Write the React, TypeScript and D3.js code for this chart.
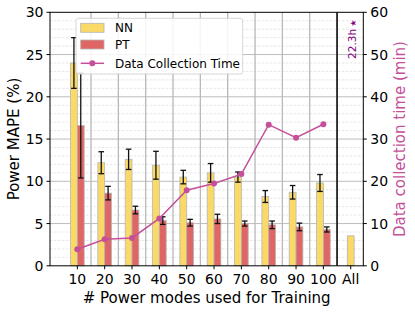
import * as d3 from "d3";

// categories and values
const modes = ["10", "20", "30", "40", "50", "60", "70", "80", "90", "100", "All"];
const nnMape = [24.0, 12.2, 12.6, 11.9, 10.5, 11.0, 10.5, 8.2, 8.7, 9.8, 3.55];
const nnErr = [3.0, 1.3, 1.2, 1.65, 0.8, 1.1, 0.6, 0.7, 0.8, 1.0, 0];
const ptMape = [16.6, 8.6, 6.6, 5.35, 5.1, 5.55, 5.0, 4.85, 4.6, 4.3];
const ptErr = [6.2, 0.8, 0.45, 0.45, 0.4, 0.55, 0.3, 0.45, 0.45, 0.3];
const collectMin = [3.9, 6.3, 6.6, 11.2, 17.9, 19.5, 21.7, 33.4, 30.3, 33.5];
const leftTicks = [0, 5, 10, 15, 20, 25, 30];
const rightTicks = [0, 10, 20, 30, 40, 50, 60];

const W = 415;
const H = 312;
const margin = { top: 12.3, right: 51.7, bottom: 46.2, left: 50 };
const FONT = "DejaVu Sans, sans-serif";

const NN_COLOR = "#fad966";
const PT_COLOR = "#e06666";
const LINE_COLOR = "#c5509a";

export default function App() {
  const x0 = margin.left;
  const x1 = W - margin.right;
  const y0 = H - margin.bottom;
  const y1 = margin.top;

  const x = d3.scaleLinear().domain([-1, 10.46]).range([x0, x1]);
  const yL = d3.scaleLinear().domain([0, 30]).range([y0, y1]);
  const yR = d3.scaleLinear().domain([0, 60]).range([y0, y1]);
  const bw = x(0.25) - x(0);
  const cap = 2.8;

  const line = d3
    .line<number>()
    .x((_, i) => x(i))
    .y((d) => yR(d));

  const minor = d3.range(1, 30).filter((v) => v % 5 !== 0);
  const vGrid = d3.range(0, 9).map((i) => i + 0.5);

  const errBar = (cx: number, v: number, e: number, key: string) => (
    <g key={key} stroke="#111" strokeWidth={1.3}>
      <line x1={cx} x2={cx} y1={yL(v - e)} y2={yL(v + e)} />
      <line x1={cx - cap} x2={cx + cap} y1={yL(v - e)} y2={yL(v - e)} />
      <line x1={cx - cap} x2={cx + cap} y1={yL(v + e)} y2={yL(v + e)} />
    </g>
  );

  return (
    <svg
      width={W}
      height={H}
      style={{ position: "absolute", left: 0, top: 0, background: "#fff" }}
      fontFamily={FONT}
    >
      {/* grid */}
      {minor.map((v) => (
        <line key={"m" + v} x1={x0} x2={x1} y1={yL(v)} y2={yL(v)}
          stroke="#dcdcdc" strokeWidth={0.7} strokeDasharray="2.5,1.5" />
      ))}
      {leftTicks.slice(1, -1).map((v) => (
        <line key={"g" + v} x1={x0} x2={x1} y1={yL(v)} y2={yL(v)}
          stroke="#bdbdbd" strokeWidth={1} />
      ))}
      {vGrid.map((v) => (
        <line key={"v" + v} x1={x(v)} x2={x(v)} y1={y1} y2={y0}
          stroke="#b8b8b8" strokeWidth={1.3} />
      ))}
      <line x1={x(9.5)} x2={x(9.5)} y1={y1} y2={y0} stroke="#222" strokeWidth={1.8} />

      {/* bars */}
      {nnMape.map((v, i) => {
        const left = i === 10 ? x(i) - bw / 2 : x(i) - bw;
        return (
          <rect key={"nn" + i} x={left} width={bw} y={yL(v)} height={y0 - yL(v)}
            fill={NN_COLOR} stroke="#b5b5b5" strokeWidth={0.8} />
        );
      })}
      {ptMape.map((v, i) => (
        <rect key={"pt" + i} x={x(i)} width={bw} y={yL(v)} height={y0 - yL(v)}
          fill={PT_COLOR} stroke="#b5b5b5" strokeWidth={0.8} />
      ))}
      {nnMape.map((v, i) =>
        nnErr[i] > 0 ? errBar(x(i) - bw / 2, v, nnErr[i], "ne" + i) : null
      )}
      {ptMape.map((v, i) => errBar(x(i) + bw / 2, v, ptErr[i], "pe" + i))}

      {/* data collection time line */}
      <path d={line(collectMin) || ""} fill="none" stroke={LINE_COLOR} strokeWidth={1.5} />
      {collectMin.map((v, i) => (
        <circle key={"c" + i} cx={x(i)} cy={yR(v)} r={3} fill={LINE_COLOR} />
      ))}

      {/* annotation */}
      <text transform={`translate(${x(10) + 5},${y1 + 27}) rotate(-90)`}
        textAnchor="middle" fontSize={10.5} fill="#800080">
        22.3h<tspan fontSize={8} dx={2}>★</tspan>
      </text>

      {/* spines */}
      <rect x={x0} y={y1} width={x1 - x0} height={y0 - y1} fill="none" stroke="#000" strokeWidth={1} />

      {/* left axis */}
      {leftTicks.map((v) => (
        <g key={"lt" + v}>
          <line x1={x0 - 3.5} x2={x0} y1={yL(v)} y2={yL(v)} stroke="#000" />
          <text x={x0 - 6.5} y={yL(v)} dy="0.36em" textAnchor="end" fontSize={14}>{v}</text>
        </g>
      ))}
      {/* right axis */}
      {rightTicks.map((v) => (
        <g key={"rt" + v}>
          <line x1={x1} x2={x1 + 3.5} y1={yR(v)} y2={yR(v)} stroke="#000" />
          <text x={x1 + 7} y={yR(v)} dy="0.36em" textAnchor="start" fontSize={14}>{v}</text>
        </g>
      ))}
      {/* bottom axis */}
      {modes.map((m, i) => (
        <g key={"bt" + m}>
          <line x1={x(i)} x2={x(i)} y1={y0} y2={y0 + 3.5} stroke="#000" />
          <text x={x(i)} y={278.7} dy="0.36em" textAnchor="middle" fontSize={14}>{m}</text>
        </g>
      ))}

      {/* axis titles */}
      <text x={(x0 + x1) / 2} y={298} dy="0.36em" textAnchor="middle" fontSize={15}>
        # Power modes used for Training
      </text>
      <text transform={`translate(13.5,${(y0 + y1) / 2}) rotate(-90)`} dy="0.36em"
        textAnchor="middle" fontSize={15}>
        Power MAPE (%)
      </text>
      <text transform={`translate(400,${(y0 + y1) / 2}) rotate(-90)`} dy="0.36em"
        textAnchor="middle" fontSize={15} fill={LINE_COLOR}>
        Data collection time (min)
      </text>

      {/* legend */}
      <g>
        <rect x={76} y={18.3} width={166.7} height={55.7} rx={2.5}
          fill="#fff" fillOpacity={0.85} stroke="#cccccc" strokeWidth={0.8} />
        <rect x={80.7} y={23.3} width={23.3} height={9} fill={NN_COLOR} stroke="#b5b5b5" strokeWidth={0.8} />
        <text x={115} y={27.8} dy="0.36em" fontSize={12}>NN</text>
        <rect x={80.7} y={40} width={23.3} height={9} fill={PT_COLOR} stroke="#b5b5b5" strokeWidth={0.8} />
        <text x={115} y={44.5} dy="0.36em" fontSize={12}>PT</text>
        <line x1={80.7} x2={104} y1={63.3} y2={63.3} stroke={LINE_COLOR} strokeWidth={1.5} />
        <circle cx={92.3} cy={63.3} r={3} fill={LINE_COLOR} />
        <text x={115} y={63.3} dy="0.36em" fontSize={12}>Data Collection Time</text>
      </g>
    </svg>
  );
}
